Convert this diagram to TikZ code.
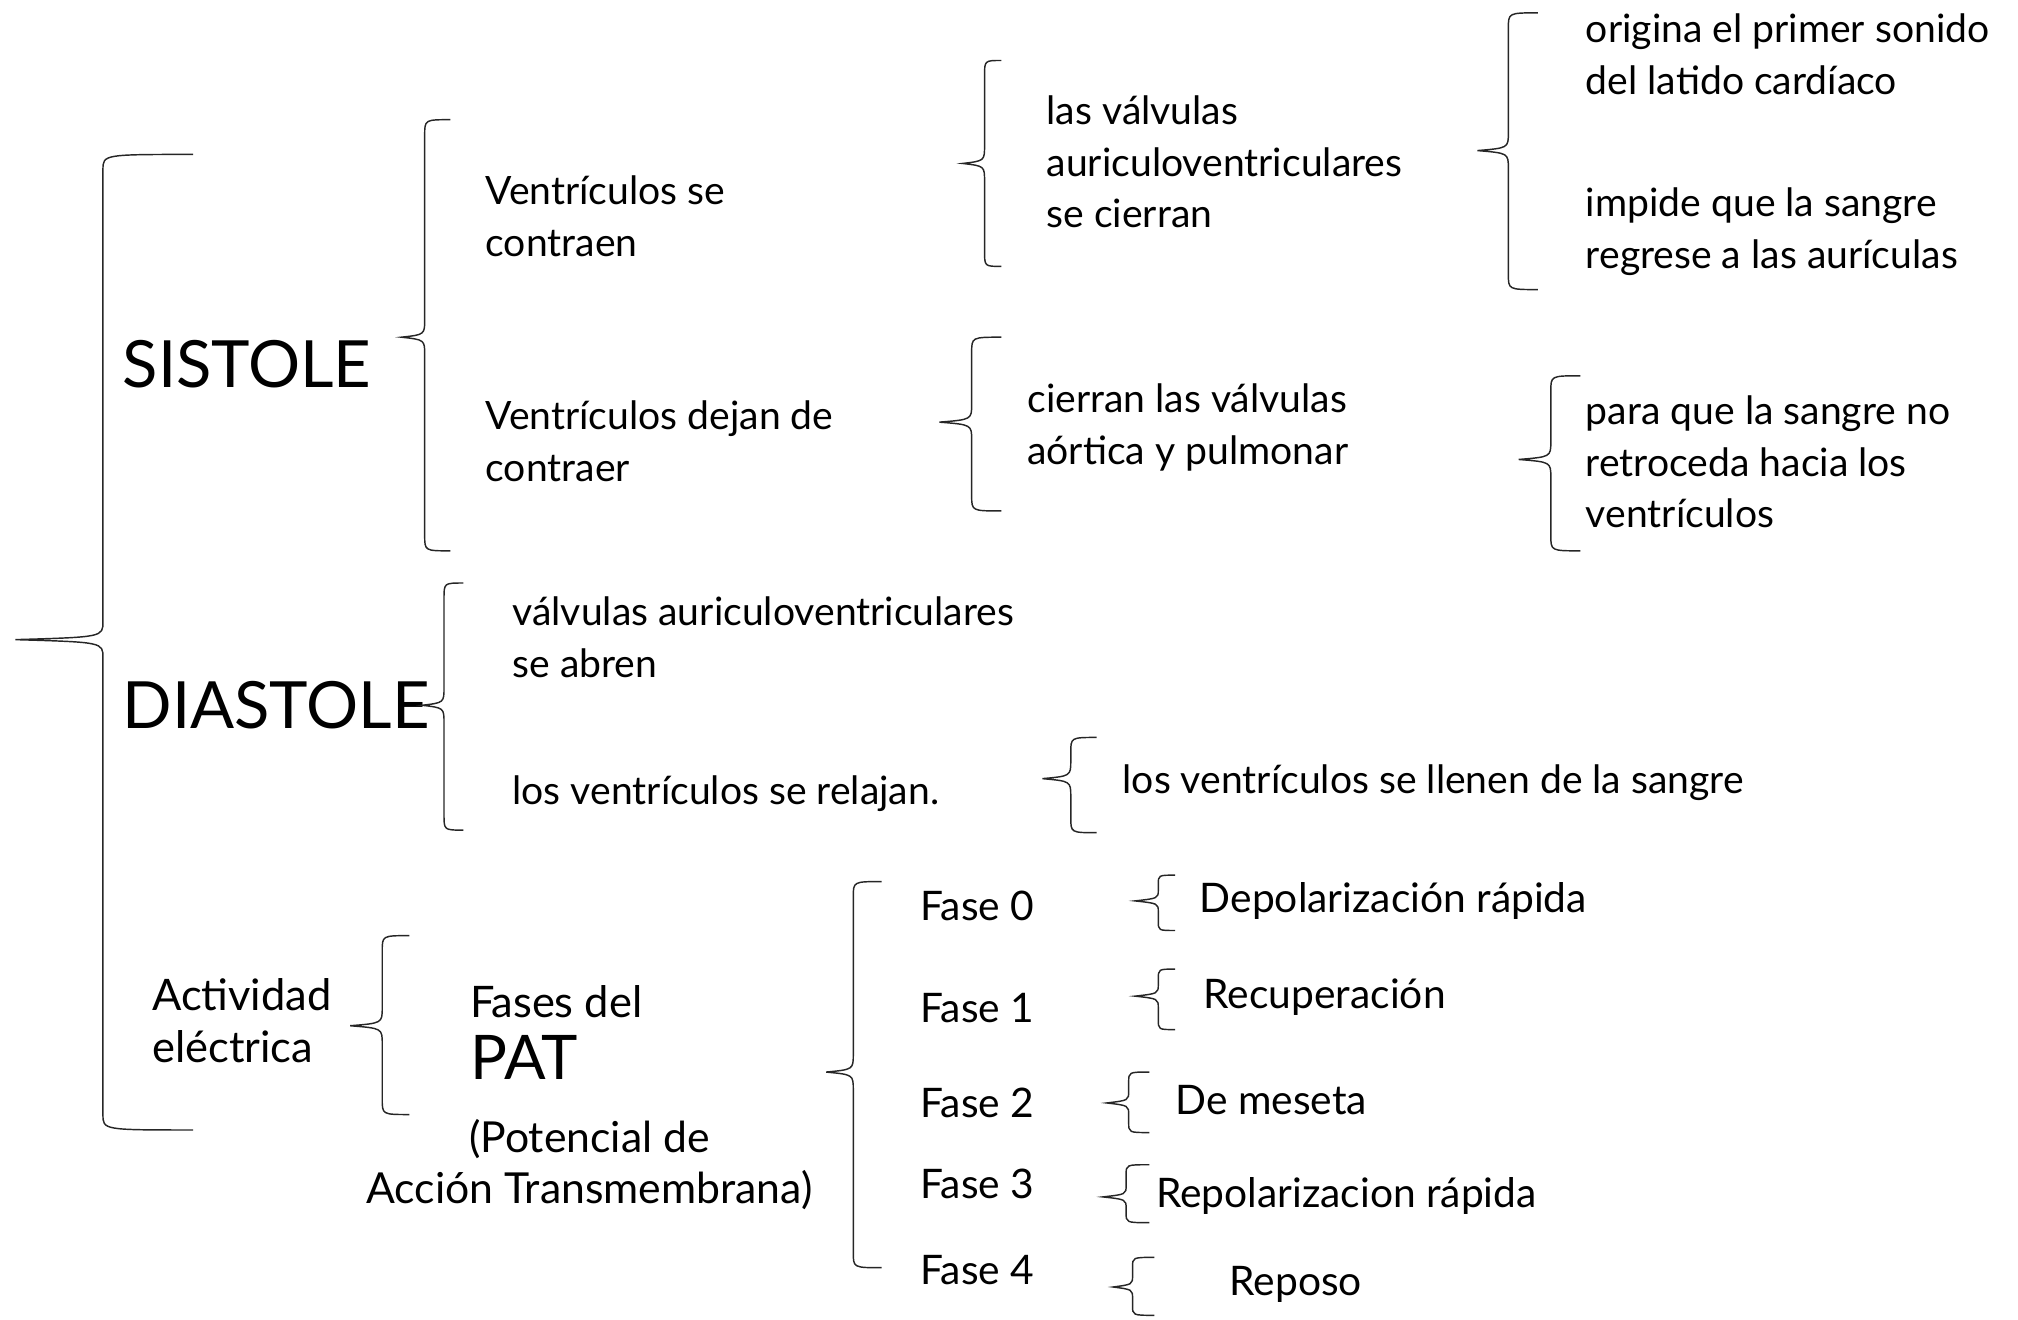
\documentclass[tikz,border=0pt]{standalone}
\usepackage{fontspec}
\setmainfont{Lato}

\tikzset{
  txt/.style={anchor=west, align=left, inner sep=0pt, font=\fontsize{21.6}{28.5}\selectfont},
  grande/.style={anchor=west, inner sep=0pt, font=\fontsize{36}{40}\selectfont},
  medio/.style={anchor=west, align=left, inner sep=0pt, font=\fontsize{24}{28.5}\selectfont},
  fase/.style={anchor=west, inner sep=0pt, font=\fontsize{22.5}{26}\selectfont},
  trazo/.style={draw=black!85, line width=0.8pt},
}

% llave: punta x, punta y, linea x, arriba y, abajo y, gancho x
\newcommand{\llave}[6]{%
  \pgfmathsetmacro{\lr}{min(12,(#5-#4)/6)}%
  \pgfmathsetmacro{\lt}{min(14,(#5-#4)/5)}%
  \draw[trazo] (#6,#4) .. controls (#3,#4) .. (#3,#4+\lr) -- (#3,#2-\lt)
    .. controls (#3,#2-2) .. (#1,#2) .. controls (#3,#2+2) .. (#3,#2+\lt)
    -- (#3,#5-\lr) .. controls (#3,#5) .. (#6,#5);
}

\begin{document}
\begin{tikzpicture}[x=0.025cm, y=-0.025cm]
\useasboundingbox (0,0) rectangle (1568,1025);

% primer nivel
\node[grande] (sis) at (95,283) {SISTOLE};
\node[grande] (dia) at (95,548) {DIASTOLE};
\node[medio] (act) at (118,793) {Actividad\\eléctrica};

% sistole
\node[txt] (v1) at (377,168) {Ventrículos se\\contraen};
\node[txt] (v2) at (377,343) {Ventrículos dejan de\\contraer};
\node[txt] (c1) at (813,126) {las válvulas\\auriculoventriculares\\se cierran};
\node[txt] (c2) at (798,332) {cierran las válvulas\\aórtica y pulmonar};
\node[txt] (s1) at (1232,42) {origina el primer sonido\\del latido cardíaco};
\node[txt] (s2) at (1232,180) {impide que la sangre\\regrese a las aurículas};
\node[txt] (s3) at (1232,359) {para que la sangre no\\retroceda hacia los\\ventrículos};

% diastole
\node[txt] (d1) at (398,495) {válvulas auriculoventriculares\\se abren};
\node[txt] (d2) at (398,617) {los ventrículos se relajan.};
\node[txt] (d3) at (872,608) {los ventrículos se llenen de la sangre};

% actividad electrica
\node[medio] (fases) at (365,778) {Fases del};
\node[anchor=west, inner sep=0pt, font=\fontsize{34}{36}\selectfont] (pat) at (365,822) {PAT};
\node[align=center, inner sep=0pt, font=\fontsize{23.6}{28.5}\selectfont] (pot) at (458,905) {(Potencial de\\Acción Transmembrana)};

\foreach \i/\y in {0/704,1/783,2/857,3/920,4/987}
  \node[fase] (f\i) at (715,\y) {Fase \i};

\node[fase] (r0) at (932,700) {Depolarización rápida};
\node[fase] (r1) at (935,775) {Recuperación};
\node[fase] (r2) at (913,855) {De meseta};
\node[fase] (r3) at (898,929) {Repolarizacion rápida};
\node[fase] (r4) at (955,998) {Reposo};

% llaves
\llave{12}{497}{80}{120}{878}{150}
\llave{312}{262}{330}{93}{428}{350}
\llave{328}{548}{345}{453}{645}{360}
\llave{272}{797}{297}{727}{866}{318}
\llave{748}{127}{765}{47}{207}{778}
\llave{730}{328}{755}{262}{397}{778}
\llave{810}{605}{832}{573}{647}{852}
\llave{642}{833}{663}{685}{985}{685}
\llave{1148}{117}{1172}{10}{225}{1195}
\llave{1180}{357}{1205}{292}{428}{1228}
\llave{882}{700}{900}{680}{723}{913}
\llave{882}{774}{900}{753}{800}{913}
\llave{860}{857}{877}{833}{880}{893}
\llave{857}{930}{875}{905}{950}{893}
\llave{865}{1000}{880}{977}{1022}{897}
\end{tikzpicture}
\end{document}
